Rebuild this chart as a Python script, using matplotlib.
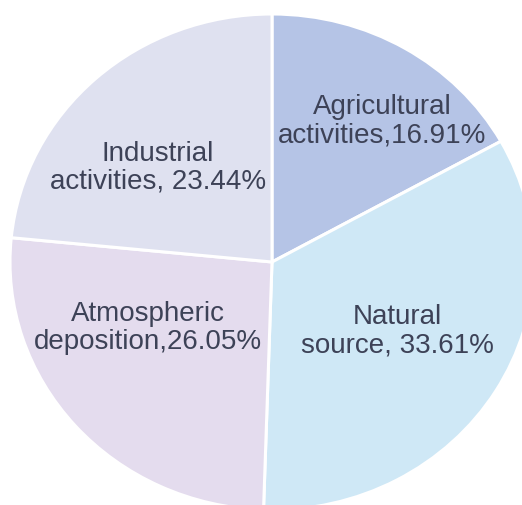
import matplotlib
matplotlib.use("Agg")
from matplotlib import pyplot as plt

# pollution source shares, clockwise from 12 o'clock
sources = ["Agricultural\nactivities,16.91%", "Natural\nsource, 33.61%",
           "Atmospheric\ndeposition,26.05%", "Industrial\nactivities, 23.44%"]
shares = [16.91, 33.61, 26.05, 23.44]
colors = ["#b5c4e6", "#cfe8f6", "#e4dcee", "#dfe1f0"]

# where each label block sits (data coords, pie radius = 1)
label_xy = [(0.42, 0.572), (0.478, -0.275), (-0.474, -0.263), (-0.435, 0.385)]

plt.rcParams['font.family'] = ['Liberation Sans', 'DejaVu Sans']

fig = plt.figure(figsize=(5.22, 5.06), dpi=100)
ax = fig.add_axes([0, 0, 1, 1])

ax.pie(shares, colors=colors, startangle=90, counterclock=False,
       wedgeprops=dict(edgecolor="white", linewidth=2.2))

for (x, y), txt in zip(label_xy, sources):
    ax.text(x, y, txt, ha="center", va="center", fontsize=20,
            color="#3d4257", linespacing=1.1)

# centre of pie sits at about (272, 262) px, slightly wider than tall
rx, ry = 262, 248
ax.set_aspect("auto")
ax.set_xlim(-272 / rx, (522 - 272) / rx)
ax.set_ylim(-(506 - 263) / ry, 263 / ry)
ax.axis("off")

fig.savefig("out.png", dpi=100, facecolor="white")
